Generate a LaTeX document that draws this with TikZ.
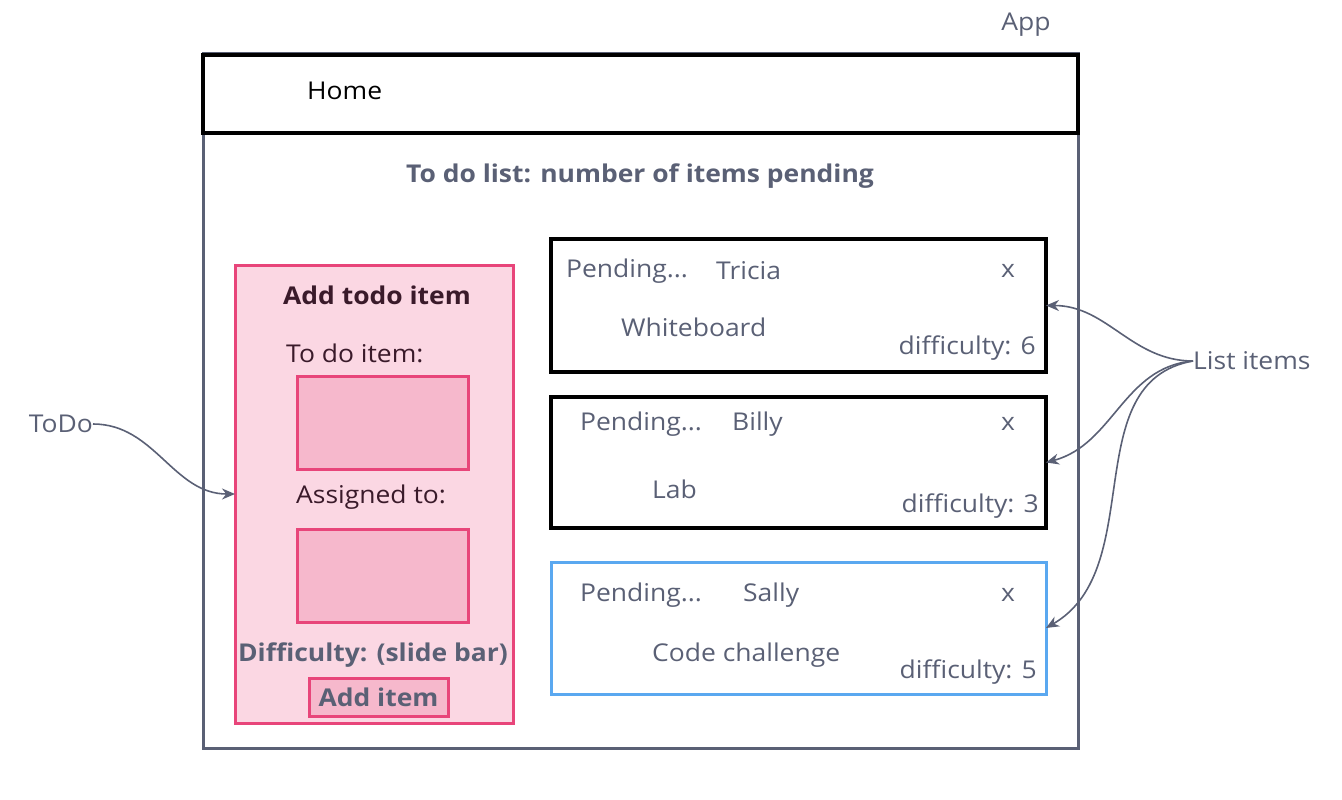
\documentclass[tikz,border=0pt]{standalone}
\usepackage{fontspec}
\setmainfont{Open Sans}[FakeStretch=1.08]
\usetikzlibrary{arrows.meta}
\definecolor{slate}{HTML}{5A6075}
\definecolor{pinkfill}{HTML}{FBD7E3}
\definecolor{pinkdraw}{HTML}{E8457A}
\definecolor{pinkbox}{HTML}{F6B8CC}
\definecolor{maroon}{HTML}{3A1A2A}
\definecolor{bluedraw}{HTML}{5AA8F0}
\tikzset{
  box/.style={draw, anchor=north west, inner sep=0pt, outer sep=0pt},
  txt/.style={font=\fontsize{24.5}{28}\selectfont, text=slate, inner sep=0pt},
  btxt/.style={font=\fontsize{24.5}{28}\selectfont\bfseries, text=slate, inner sep=0pt},
  conn/.style={draw=slate, line width=1.6pt, -{Stealth[length=13pt,width=11pt]}},
}
\begin{document}
\begin{tikzpicture}[x=1pt,y=-1pt]
\useasboundingbox (0,0) rectangle (1342,800);
% App container
\node[box, draw=slate, line width=3pt, minimum width=875pt, minimum height=694pt] (app) at (203,54) {};
\node[box, draw=black, line width=4pt, minimum width=875pt, minimum height=78pt] (home) at (203,55) {};
\node[txt, text=black, anchor=west] (hometxt) at (307,91) {Home};
\node[txt, anchor=center] (apptxt) at (1026,25) {App};
\node[btxt, anchor=center] (title) at (640,176) {To do list: number of items pending};
% Add todo panel
\node[box, draw=pinkdraw, fill=pinkfill, line width=3pt, minimum width=278pt, minimum height=458pt] (panel) at (235,265) {};
\node[btxt, text=maroon] (addtitle) at (377,295) {Add todo item};
\node[txt, text=maroon, anchor=west] (todolbl) at (286,353) {To do item:};
\node[box, draw=pinkdraw, fill=pinkbox, line width=3pt, minimum width=171pt, minimum height=93pt] (input1) at (297,376) {};
\node[txt, text=maroon, anchor=west] (assignlbl) at (296,497) {Assigned to:};
\node[box, draw=pinkdraw, fill=pinkbox, line width=3pt, minimum width=171pt, minimum height=93pt] (input2) at (297,529) {};
\node[btxt] (difflbl) at (373,655) {Difficulty: (slide bar)};
\node[box, draw=pinkdraw, fill=pinkbox, line width=3pt, minimum width=139pt, minimum height=38pt] (button) at (309,678) {};
\node[btxt] (btntxt) at (button.center) {Add item};
% List items
\node[box, draw=black, line width=4pt, minimum width=495pt, minimum height=133pt] (item1) at (551,239) {};
\node[txt, anchor=west] (p1) at (566,271) {Pending...};
\node[txt, anchor=west] (n1) at (716,271) {Tricia};
\node[txt] (x1) at (1008,271) {x};
\node[txt, anchor=west] (t1) at (621,327) {Whiteboard};
\node[txt, anchor=east] (d1) at (1036,348) {difficulty: 6};
\node[box, draw=black, line width=4pt, minimum width=495pt, minimum height=131pt] (item2) at (551,397) {};
\node[txt, anchor=west] (p2) at (580,424) {Pending...};
\node[txt, anchor=west] (n2) at (732,424) {Billy};
\node[txt] (x2) at (1008,424) {x};
\node[txt, anchor=west] (t2) at (652,489) {Lab};
\node[txt, anchor=east] (d2) at (1039,506) {difficulty: 3};
\node[box, draw=bluedraw, line width=3pt, minimum width=495pt, minimum height=132pt] (item3) at (551,562) {};
\node[txt, anchor=west] (p3) at (580,595) {Pending...};
\node[txt, anchor=west] (n3) at (743,595) {Sally};
\node[txt] (x3) at (1008,595) {x};
\node[txt, anchor=west] (t3) at (652,655) {Code challenge};
\node[txt, anchor=east] (d3) at (1037,672) {difficulty: 5};
% Labels and connectors
\node[txt, anchor=west] (listlbl) at (1193,361) {List items};
\node[txt, anchor=east] (todolabel) at (93,424) {ToDo};
\draw[conn] (listlbl.west) to[out=180,in=0] (item1.east);
\draw[conn] (listlbl.west) to[out=185,in=15] (item2.east);
\draw[conn] (listlbl.west) to[out=190,in=30] (item3.east);
\draw[conn] (todolabel.east) to[out=0,in=180] (panel.west);
\end{tikzpicture}
\end{document}
